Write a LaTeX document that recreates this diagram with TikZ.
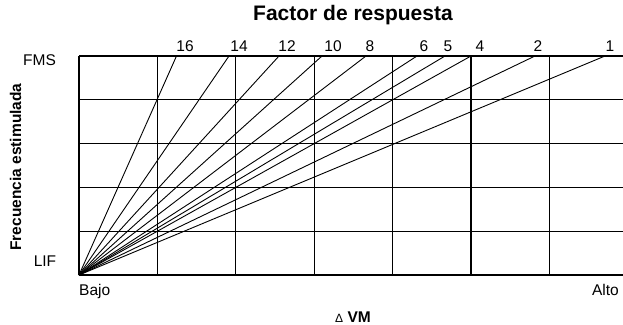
\documentclass[tikz,border=0pt]{standalone}
\usepackage{fontspec}
\setmainfont{Liberation Sans}
\begin{document}
\begin{tikzpicture}[x=1pt,y=-1pt,
  gridline/.style={line width=1.2pt},
  ray/.style={line width=0.9pt},
  lbl/.style={inner sep=0pt,anchor=base,font=\fontsize{15.5}{17}\selectfont},
  blbl/.style={inner sep=0pt,anchor=base,font=\fontsize{15.5}{17}\selectfont\bfseries}]
\useasboundingbox (0,0) rectangle (623,324);
% grid
\foreach \yy in {56,99.8,143.6,187.4,231.2,275}
  \draw[gridline] (79,\yy) -- (623,\yy);
\foreach \xx in {79,157.4,235.8,314.2,392.6,471,549.4}
  \draw[gridline] (\xx,56) -- (\xx,275);
% rays
\coordinate (o) at (79,275);
\foreach \n/\xt/\xl in {16/176.5/185,14/229/239,12/279/287,10/322/333,8/366/370,6/417/424,5/445/448,4/471/480,2/535/538,1/605/610}{
  \coordinate (t\n) at (\xt,56);
  \draw[ray] (o) -- (t\n);
  \node[lbl] (l\n) at (\xl,51.7) {\n};
}
% texts
\node[inner sep=0pt,anchor=base,font=\fontsize{21}{24}\selectfont\bfseries] (title) at (353,20.7) {Factor de respuesta};
\node[lbl] (fms) at (39.5,65) {FMS};
\node[lbl] (lif) at (45,266) {LIF};
\node[lbl,anchor=base west] (bajo) at (79,295) {Bajo};
\node[lbl,anchor=base east] (alto) at (619,295) {Alto};
\node[blbl] (dvm) at (353,322) {{\fontsize{12}{13}\mdseries Δ} VM};
\node[blbl,rotate=90] (frec) at (21,167) {Frecuencia estimulada};
\end{tikzpicture}
\end{document}
